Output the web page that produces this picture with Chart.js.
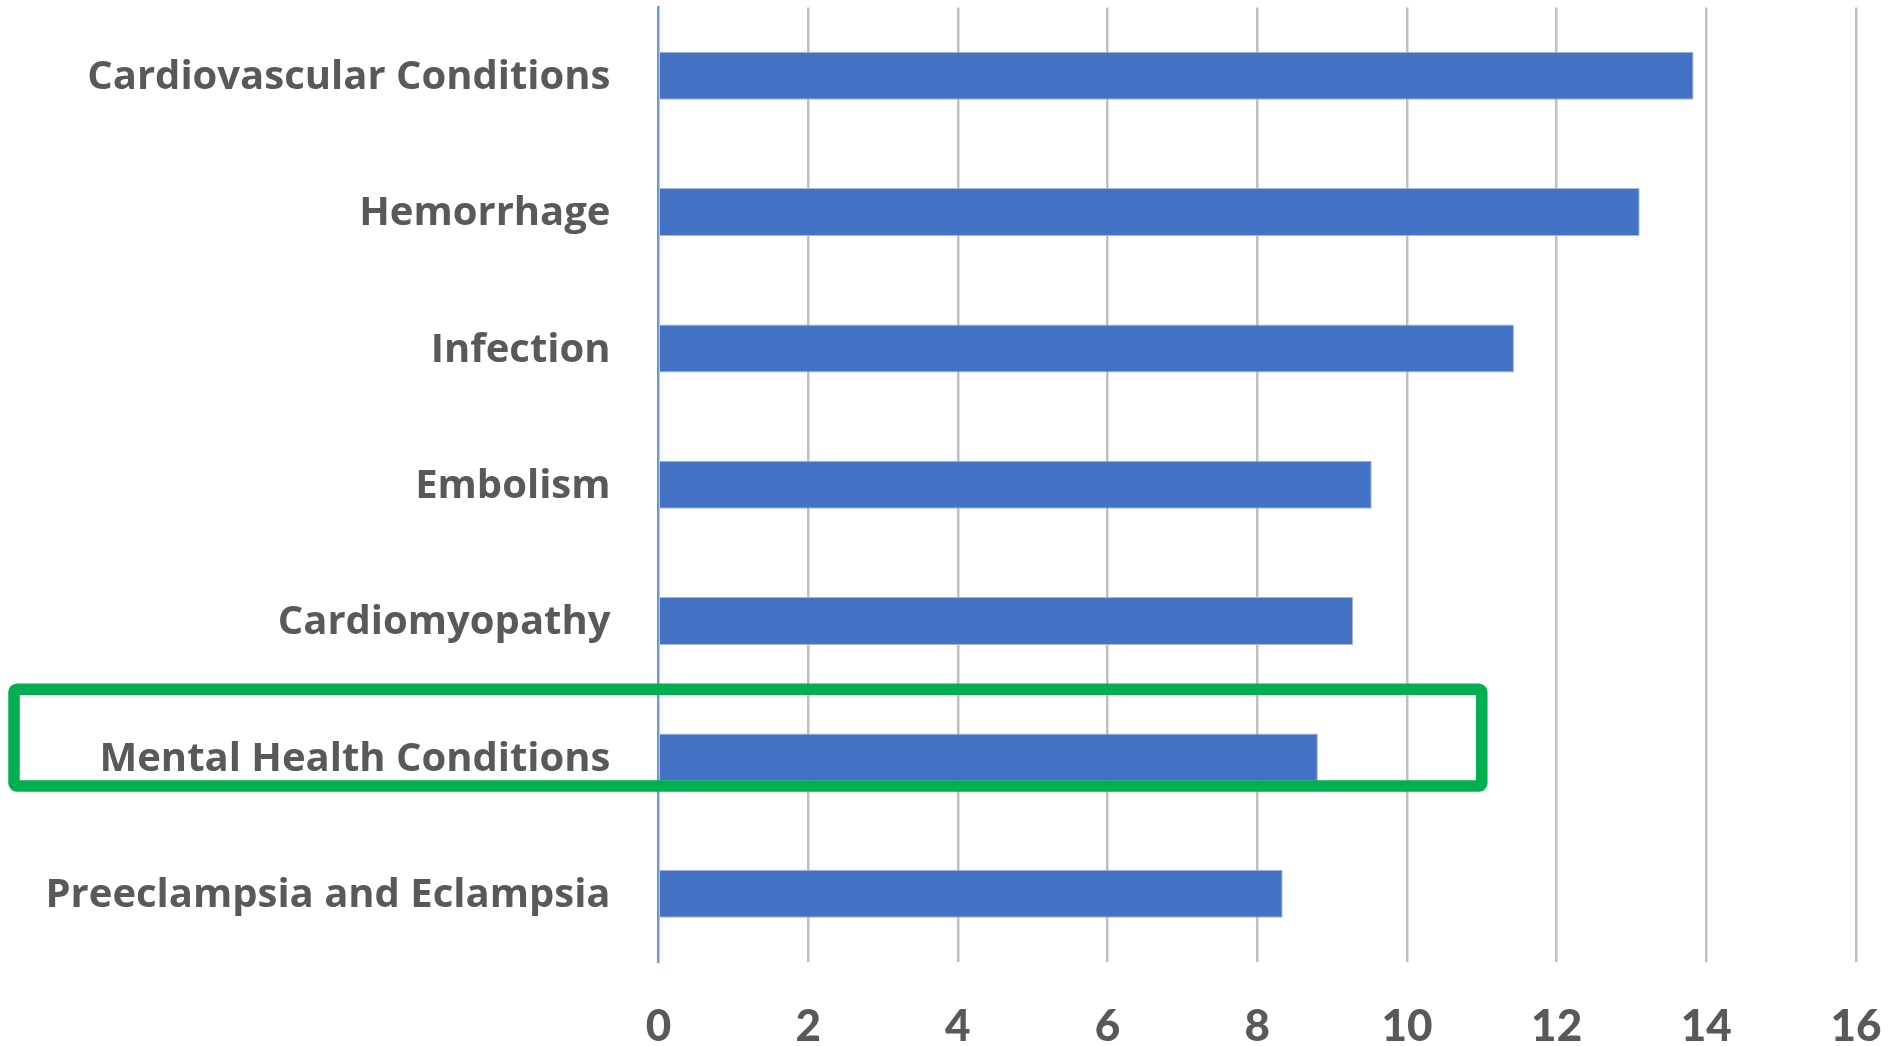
<!DOCTYPE html>
<html>
<head>
<meta charset="utf-8">
<script src="https://cdn.jsdelivr.net/npm/chart.js@4.4.1/dist/chart.umd.min.js"></script>
<style>
  html, body { margin: 0; padding: 0; background: #ffffff; }
  #wrap { width: 1898px; height: 1046px; position: relative; }
</style>
</head>
<body>
<div id="wrap"><canvas id="c" width="1898" height="1046"></canvas></div>
<script>
// ---- data ----
const categories = [
  'Cardiovascular Conditions',
  'Hemorrhage',
  'Infection',
  'Embolism',
  'Cardiomyopathy',
  'Mental Health Conditions',
  'Preeclampsia and Eclampsia'
];
const values = [13.83, 13.11, 11.43, 9.53, 9.28, 8.81, 8.34];
const axisMin = 0;
const axisMax = 16;
const axisStep = 2;
const highlightCategory = 'Mental Health Conditions';
const highlightUpTo = 11;

// ---- highlight box plugin ----
const highlightPlugin = {
  id: 'highlightBox',
  afterDraw(chart) {
    const xs = chart.scales.x, ys = chart.scales.y;
    const idx = categories.indexOf(highlightCategory);
    if (idx < 0) return;
    const center = ys.getPixelForValue(idx);
    const catH = Math.abs(ys.getPixelForValue(1) - ys.getPixelForValue(0));
    const top = center - catH / 2;
    const bottom = center + catH * 0.21;
    const left = 14;
    const right = xs.getPixelForValue(highlightUpTo);
    const ctx = chart.ctx;
    ctx.save();
    ctx.strokeStyle = '#00B050';
    ctx.lineWidth = 11.5;
    ctx.lineJoin = 'round';
    ctx.beginPath();
    if (ctx.roundRect) ctx.roundRect(left, top, right - left, bottom - top, 3);
    else ctx.rect(left, top, right - left, bottom - top);
    ctx.stroke();
    ctx.restore();
  }
};

new Chart(document.getElementById('c'), {
  type: 'bar',
  data: {
    labels: categories,
    datasets: [{
      data: values,
      backgroundColor: '#4472C4',
      borderColor: '#A9B6CC',
      borderWidth: 1,
      categoryPercentage: 1,
      barPercentage: 0.352
    }]
  },
  options: {
    indexAxis: 'y',
    responsive: false,
    devicePixelRatio: 1,
    animation: false,
    layout: { padding: { top: 7.5, right: 42, left: 0, bottom: 0 } },
    plugins: { legend: { display: false }, tooltip: { enabled: false } },
    scales: {
      x: {
        type: 'linear',
        min: axisMin,
        max: axisMax,
        ticks: {
          stepSize: axisStep,
          color: '#595959',
          font: { family: 'Lato', weight: 900, size: 44 },
          padding: 38,
          maxRotation: 0
        },
        grid: {
          color: (c) => (c.tick && c.tick.value === 0) ? 'rgba(0,0,0,0)' : '#BFBFBF',
          lineWidth: 2.5,
          drawTicks: false
        },
        border: { display: false },
        afterFit(scale) {
          scale.height = 84;
          scale.paddingLeft = 0; scale.paddingRight = 0;
          scale.paddingTop = 0; scale.paddingBottom = 0;
        }
      },
      y: {
        ticks: {
          color: '#595959',
          font: { family: 'Open Sans', weight: 'bold', size: 40 },
          padding: 48,
          labelOffset: 2,
          autoSkip: false
        },
        grid: { display: false, drawTicks: false },
        border: { display: true, color: '#6A9BD3', width: 2.5 },
        afterFit(scale) {
          scale.width = 658.5;
          scale.paddingTop = 0; scale.paddingBottom = 0;
          scale.paddingLeft = 0; scale.paddingRight = 0;
        }
      }
    }
  },
  plugins: [highlightPlugin]
});
</script>
</body>
</html>
